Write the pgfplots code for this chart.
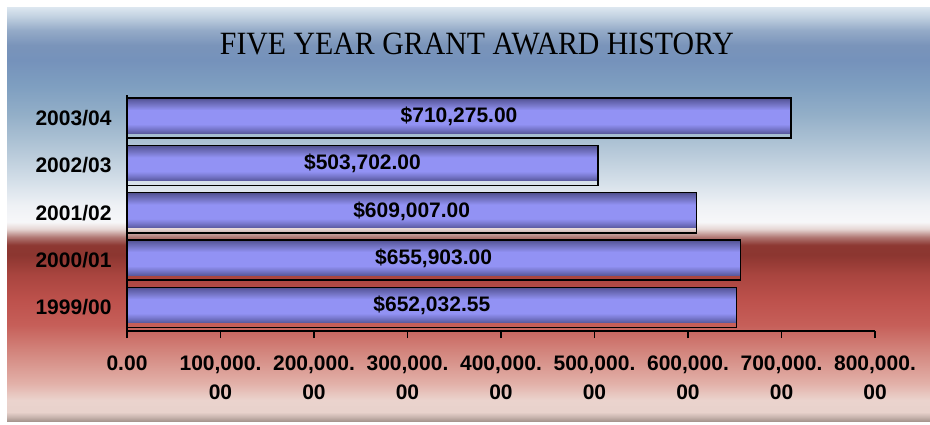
\documentclass[border=0pt]{standalone}
\usepackage{pgfplots}
\usepackage{pgfplotstable}
\pgfplotsset{compat=1.18}
\usepackage{fontspec}
\setmainfont{Liberation Sans}
\newfontfamily\titlefont{Liberation Serif}
\usepackage{graphicx}

\definecolor{b00}{HTML}{A8968F}
\definecolor{b01}{HTML}{C8B4AE}
\definecolor{b02}{HTML}{E8D2CC}
\definecolor{b03}{HTML}{EBD3CD}
\definecolor{b04}{HTML}{E2B0A8}
\definecolor{b05}{HTML}{D2837B}
\definecolor{b06}{HTML}{C65F59}
\definecolor{b07}{HTML}{BD514C}
\definecolor{b08}{HTML}{A9453F}
\definecolor{b09}{HTML}{8C3630}
\definecolor{b10}{HTML}{8D3832}
\definecolor{b11}{HTML}{B07874}
\definecolor{b12}{HTML}{E6D6D4}
\definecolor{b13}{HTML}{F7F7F9}
\definecolor{b14}{HTML}{EEF1F5}
\definecolor{b15}{HTML}{D3DEE8}
\definecolor{b16}{HTML}{B5C8D8}
\definecolor{b17}{HTML}{93AFC8}
\definecolor{b18}{HTML}{7E9EC0}
\definecolor{b19}{HTML}{7592BB}
\definecolor{b20}{HTML}{7A94BA}
\definecolor{b21}{HTML}{95ABC8}
\definecolor{b22}{HTML}{C0D0E0}
\definecolor{b23}{HTML}{DDE7F0}

\pgfdeclareverticalshading{bgshade}{923pt}{%
color(0pt)=(b00); color(4pt)=(b01); color(9pt)=(b02); color(21pt)=(b03);
color(38pt)=(b04); color(71pt)=(b05); color(96pt)=(b06); color(121pt)=(b07);
color(146pt)=(b08); color(166pt)=(b09); color(176pt)=(b10); color(184pt)=(b11);
color(192pt)=(b12); color(199pt)=(b13); color(216pt)=(b14); color(241pt)=(b15);
color(271pt)=(b16); color(306pt)=(b17); color(336pt)=(b18); color(361pt)=(b19);
color(376pt)=(b20); color(391pt)=(b21); color(404pt)=(b22); color(414pt)=(b23)}

\definecolor{s0}{HTML}{5A5AA0}
\definecolor{s1}{HTML}{7A7AD0}
\definecolor{s2}{HTML}{9292F4}
\definecolor{s3}{HTML}{7474C4}
\definecolor{s4}{HTML}{5E5EA6}
\definecolor{s5}{HTML}{50508C}
\pgfdeclareverticalshading{barshade}{100bp}{%
color(0bp)=(s0); color(25bp)=(s0); color(32bp)=(s1); color(38bp)=(s2);
color(58bp)=(s2); color(66bp)=(s3); color(72bp)=(s4); color(75bp)=(s5); color(100bp)=(s5)}

\pgfplotstableread{
y v lbl
0 652032.55 652,032.55
1 655903.00 655,903.00
2 609007.00 609,007.00
3 503702.00 503,702.00
4 710275.00 710,275.00
}\grants

\pgfplotsset{fillbar/.style={xbar, bar width=0.74, bar shift=0.053, draw=none, shade, shading=barshade}}

\begin{document}
\begin{tikzpicture}[x=1pt,y=1pt]
\useasboundingbox (0,0) rectangle (930,424);
\fill[white] (0,0) rectangle (930,424);
\node[anchor=south west, inner sep=0pt, outer sep=0pt] at (7,3) {\pgfuseshading{bgshade}};
\node[inner sep=0pt] at (477,380.5) {\resizebox{514pt}{21.5pt}{\titlefont FIVE YEAR GRANT AWARD HISTORY}};
\begin{axis}[
  at={(127pt,93pt)}, anchor=south west,
  scale only axis, width=748pt, height=236.5pt,
  xmin=0, xmax=800000, ymin=-0.5, ymax=4.5,
  enlargelimits=false, clip=false,
  scaled x ticks=false,
  axis lines*=left,
  axis line style={line width=1.6pt, black},
  xtick={0,100000,200000,300000,400000,500000,600000,700000,800000},
  xticklabels={0.00,{100,000.\\00},{200,000.\\00},{300,000.\\00},{400,000.\\00},{500,000.\\00},{600,000.\\00},{700,000.\\00},{800,000.\\00}},
  ytick={0,1,2,3,4},
  yticklabels={1999/00,2000/01,2001/02,2002/03,2003/04},
  tick align=outside,
  major tick length=7pt,
  x tick style={line width=1.6pt, black},
  y tick style={draw=none},
  tick label style={font=\fontsize{21}{29}\selectfont\bfseries},
  xticklabel style={align=center, anchor=north, yshift=-14pt},
  yticklabel style={anchor=east, xshift=-5pt},
]
\addplot[fillbar] table[x=v, y=y, restrict expr to domain={\coordindex}{0:0}] {\grants};
\addplot[fillbar] table[x=v, y=y, restrict expr to domain={\coordindex}{1:1}] {\grants};
\addplot[fillbar] table[x=v, y=y, restrict expr to domain={\coordindex}{2:2}] {\grants};
\addplot[fillbar] table[x=v, y=y, restrict expr to domain={\coordindex}{3:3}] {\grants};
\addplot[fillbar] table[x=v, y=y, restrict expr to domain={\coordindex}{4:4}] {\grants};
\addplot[xbar, bar width=0.846, bar shift=0, draw=black, fill=none, line width=1.5pt]
  table[x=v, y=y] {\grants};
\addplot[draw=none, mark=none, point meta=explicit symbolic,
  nodes near coords={\$\pgfplotspointmeta}, nodes near coords align=center,
  every node near coord/.append style={font=\fontsize{21}{25}\selectfont\bfseries, inner sep=0pt}]
  table[x expr=\thisrow{v}/2, y expr=\thisrow{y}+0.04, meta=lbl] {\grants};
\end{axis}
\end{tikzpicture}
\end{document}
